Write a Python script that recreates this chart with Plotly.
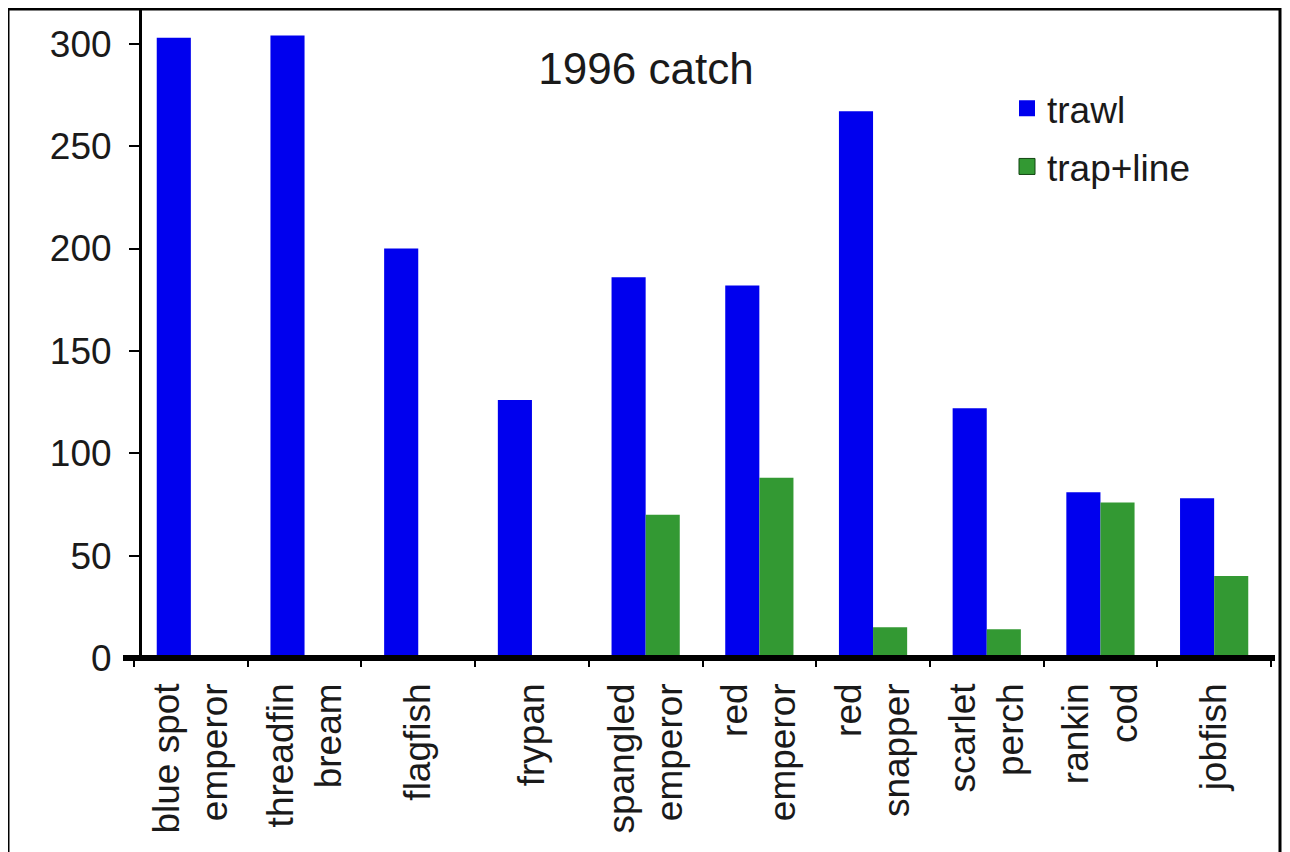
import plotly.graph_objects as go

categories = ["blue spot<br>emperor", "threadfin<br>bream", "flagfish", "frypan",
              "spangled<br>emperor", "red<br>emperor", "red<br>snapper",
              "scarlet<br>perch", "rankin<br>cod", "jobfish"]
trawl = [303, 304, 200, 126, 186, 182, 267, 122, 81, 78]
trap_line = [0, 0, 0, 0, 70, 88, 15, 14, 76, 40]
y_ticks = [0, 50, 100, 150, 200, 250, 300]

BLUE = "#0000EE"
GREEN = "#339933"
TXT = "#1a1a1a"
FONT = "Liberation Sans, Arial, sans-serif"

W, H = 1282, 844
L, R, T, B = 126, 19, 1, 194
PW = W - L - R

fig = go.Figure()
fig.add_trace(go.Bar(x=categories, y=trawl, name="trawl", marker_color=BLUE,
                     marker_line_width=0, showlegend=False))
fig.add_trace(go.Bar(x=categories, y=trap_line, name="trap+line", marker_color=GREEN,
                     marker_line_width=0, showlegend=False))
# legend entries with larger square swatches
fig.add_trace(go.Scatter(x=[None], y=[None], mode="markers", name="trawl",
                         marker=dict(symbol="square", size=16, color=BLUE),
                         legendgroup="a"))
fig.add_trace(go.Scatter(x=[None], y=[None], mode="markers", name="trap+line",
                         marker=dict(symbol="square", size=16, color=GREEN,
                                     line=dict(color="#114411", width=1)),
                         legendgroup="b"))

fig.update_layout(
    width=W, height=H,
    margin=dict(l=L, r=R, t=T, b=B),
    paper_bgcolor="white", plot_bgcolor="white",
    font=dict(family=FONT, color=TXT),
    barmode="group", bargap=0.40, bargroupgap=0,
    title=dict(text="1996 catch", x=(638 - L) / PW, xref="paper", xanchor="center",
               y=1 - 61 / H, yref="container", yanchor="middle",
               font=dict(size=44, family=FONT, color=TXT)),
    legend=dict(x=(999 - L) / PW, y=0.894, xanchor="left", yanchor="top",
                font=dict(size=37, family=FONT, color=TXT),
                bgcolor="rgba(0,0,0,0)", tracegroupgap=7),
    xaxis=dict(type="category", tickson="boundaries", ticks="outside", ticklen=8,
               tickwidth=2, tickcolor="black", tickangle=-90,
               tickfont=dict(size=37, family=FONT, color=TXT),
               showgrid=False, showline=False, zeroline=False,
               ticklabelstandoff=17, range=[-0.5, 9.5], domain=[0, 1]),
    yaxis=dict(range=[0, 317], tickvals=y_ticks, ticks="outside", ticklen=10,
               tickwidth=2, tickcolor="black",
               tickfont=dict(size=37, family=FONT, color=TXT),
               showgrid=False, zeroline=False, showline=True, linewidth=3,
               linecolor="black", ticklabelstandoff=10,
               anchor="free", position=(132 - L) / PW),
)

# thick baseline extending beyond the plot area (paper refs are not clipped)
fig.add_shape(type="line", xref="paper", yref="paper",
              x0=(115 - L) / PW, x1=(1267 - L) / PW, y0=0, y1=0,
              line=dict(color="black", width=6))
# outer frame
fig.add_shape(type="rect", xref="paper", yref="paper",
              x0=(0 - L) / PW, x1=(1272 - L) / PW,
              y0=-0.33, y1=1.0, line=dict(color="black", width=3),
              fillcolor="rgba(0,0,0,0)")

fig.write_html("out.html")
